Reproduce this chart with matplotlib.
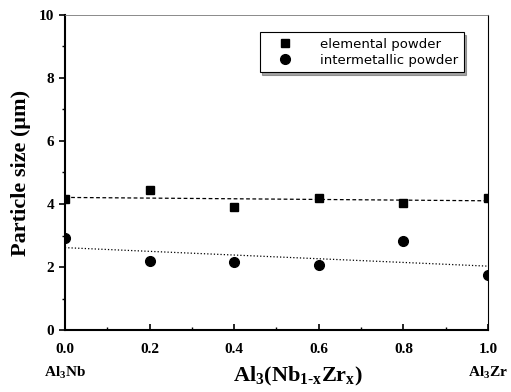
import numpy as np
import matplotlib.pyplot as plt

plt.rcParams['font.family'] = 'Liberation Serif'
plt.rcParams['font.weight'] = 'bold'
plt.rcParams['mathtext.fontset'] = 'custom'
plt.rcParams['mathtext.rm'] = 'Liberation Serif:weight=bold'
plt.rcParams['mathtext.it'] = 'Liberation Serif:weight=bold'
plt.rcParams['mathtext.bf'] = 'Liberation Serif:weight=bold'

# composition x in Al3(Nb1-xZrx)
x = [0.0, 0.2, 0.4, 0.6, 0.8, 1.0]
elemental = [4.15, 4.45, 3.92, 4.18, 4.03, 4.20]
intermetallic = [2.93, 2.20, 2.15, 2.08, 2.82, 1.75]

fig = plt.figure(figsize=(5.11, 3.92), dpi=100)
ax = fig.add_axes([0.127, 0.158, 0.828, 0.804])

ax.plot(x, elemental, 's', color='black', markersize=6, label='elemental powder', zorder=3)
ax.plot(x, intermetallic, 'o', color='black', markersize=7, label='intermetallic powder', zorder=3)

# linear fits
xx = np.array([0.0, 1.0])
p1 = np.polyfit(x, elemental, 1)
p2 = np.polyfit(x, intermetallic, 1)
ax.plot(xx, np.polyval(p1, xx), '--', color='black', lw=0.9, dashes=(3, 2))
ax.plot(xx, np.polyval(p2, xx), ':', color='black', lw=0.9)

ax.set_xlim(0, 1.0)
ax.set_ylim(0, 10)
ax.set_xticks([0.0, 0.2, 0.4, 0.6, 0.8, 1.0])
ax.set_xticks([0.1, 0.3, 0.5, 0.7, 0.9], minor=True)
ax.set_yticks([0, 2, 4, 6, 8, 10])
ax.set_yticks([1, 3, 5, 7, 9], minor=True)
ax.tick_params(axis='x', which='both', direction='in', labelsize=11, pad=9)
ax.tick_params(axis='y', which='both', direction='out', labelsize=11)
ax.tick_params(which='major', length=4, width=1.2)
ax.tick_params(which='minor', length=2.5, width=1)

ax.spines['left'].set_linewidth(1.5)
ax.spines['bottom'].set_linewidth(1.5)
ax.spines['top'].set_linewidth(0.6)
ax.spines['right'].set_linewidth(0.8)
ax.spines['top'].set_color('#777777')

ax.set_ylabel('Particle size (\u03bcm)', fontsize=16, fontweight='bold', labelpad=6)
ax.text(0.55, -0.148, r'$\mathbf{Al_3(Nb_{1\text{-}x}Zr_x)}$', transform=ax.transAxes,
        ha='center', va='center', fontsize=16)

ax.text(0.0, -0.135, r'$\mathbf{Al_3Nb}$', transform=ax.transAxes, ha='center', va='center', fontsize=11)
ax.text(1.0, -0.135, r'$\mathbf{Al_3Zr}$', transform=ax.transAxes, ha='center', va='center', fontsize=11)

leg = ax.legend(loc='upper left', bbox_to_anchor=(0.46, 0.945), frameon=True, shadow=True,
                fancybox=False, prop={'family': 'DejaVu Sans', 'size': 9.5, 'weight': 'normal'},
                handletextpad=1.2, borderpad=0.4, labelspacing=0.25, borderaxespad=0,
                handlelength=3.0)
leg.get_frame().set_edgecolor('black')
leg.get_frame().set_linewidth(0.8)

fig.savefig('out.png', dpi=100)
